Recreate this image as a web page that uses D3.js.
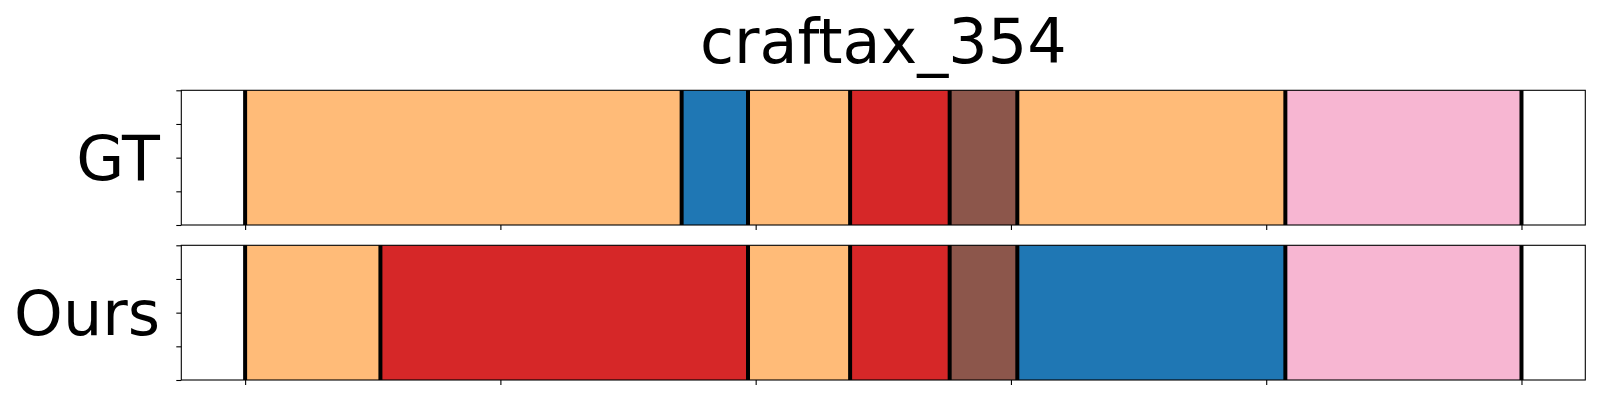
<!DOCTYPE html>
<html>
<head>
<meta charset="utf-8">
<script src="https://cdn.jsdelivr.net/npm/d3@7"></script>
<style>
  html, body { margin: 0; padding: 0; background: #fff; }
  svg { display: block; font-family: "DejaVu Sans", sans-serif; }
</style>
</head>
<body>
<svg id="chart" width="1600" height="400"></svg>
<script>
// ---- data ----
const title = "craftax_354";
const rowNames = ["GT", "Ours"];
const gtBounds = [0, 171, 197, 237, 276, 302.5, 407.5, 500];
const gtLabels = ["orange", "blue", "orange", "red", "brown", "orange", "pink"];
const oursBounds = [0, 53, 197, 237, 276, 302.5, 407.5, 500];
const oursLabels = ["orange", "red", "orange", "red", "brown", "blue", "pink"];
const xTicks = [0, 100, 200, 300, 400, 500];
const yTicks = [0, 0.25, 0.5, 0.75, 1];
const xDomain = [-25, 525];
const colorMap = { orange: "#ffbb78", blue: "#1f77b4", red: "#d62728", brown: "#8c564b", pink: "#f7b6d2" };

// ---- layout ----
const svg = d3.select("#chart");
const left = 181.3, right = 1585.3;
const panels = [
  { name: rowNames[0], bounds: gtBounds, labels: gtLabels, top: 90.3, bottom: 225 },
  { name: rowNames[1], bounds: oursBounds, labels: oursLabels, top: 245.3, bottom: 380 }
];
const x = d3.scaleLinear().domain(xDomain).range([left, right]);

svg.append("text")
  .attr("x", (left + right) / 2)
  .attr("y", 63)
  .attr("text-anchor", "middle")
  .attr("font-size", 62)
  .attr("fill", "#000")
  .text(title);

panels.forEach(p => {
  const y = d3.scaleLinear().domain([0, 1]).range([p.bottom, p.top]);
  const g = svg.append("g");
  const segs = p.labels.map((lab, i) => ({ x0: p.bounds[i], x1: p.bounds[i + 1], c: colorMap[lab] }));

  g.selectAll("rect.seg").data(segs).enter().append("rect")
    .attr("class", "seg")
    .attr("x", d => x(d.x0))
    .attr("width", d => x(d.x1) - x(d.x0))
    .attr("y", y(1))
    .attr("height", y(0) - y(1))
    .attr("fill", d => d.c);

  g.selectAll("line.bound").data(p.bounds).enter().append("line")
    .attr("class", "bound")
    .attr("x1", d => x(d)).attr("x2", d => x(d))
    .attr("y1", y(1)).attr("y2", y(0))
    .attr("stroke", "#000")
    .attr("stroke-width", 4);

  // axes
  const xAxis = d3.axisBottom(x).tickValues(xTicks).tickFormat("").tickSizeOuter(0).tickSizeInner(5);
  const gx = g.append("g").attr("transform", `translate(0,${p.bottom})`).call(xAxis);
  gx.select(".domain").remove();
  gx.selectAll(".tick line").attr("stroke", "#000").attr("stroke-width", 1.1);

  const yAxis = d3.axisLeft(y).tickValues(yTicks).tickFormat("").tickSizeOuter(0).tickSizeInner(5);
  const gy = g.append("g").attr("transform", `translate(${left},0)`).call(yAxis);
  gy.select(".domain").remove();
  gy.selectAll(".tick line").attr("stroke", "#000").attr("stroke-width", 1.1);

  g.append("rect")
    .attr("x", left).attr("y", p.top)
    .attr("width", right - left).attr("height", p.bottom - p.top)
    .attr("fill", "none").attr("stroke", "#000").attr("stroke-width", 1.1);

  g.append("text")
    .attr("x", 160)
    .attr("y", (p.top + p.bottom) / 2)
    .attr("dy", "0.36em")
    .attr("text-anchor", "end")
    .attr("font-size", 62)
    .attr("fill", "#000")
    .text(p.name);
});
</script>
</body>
</html>
